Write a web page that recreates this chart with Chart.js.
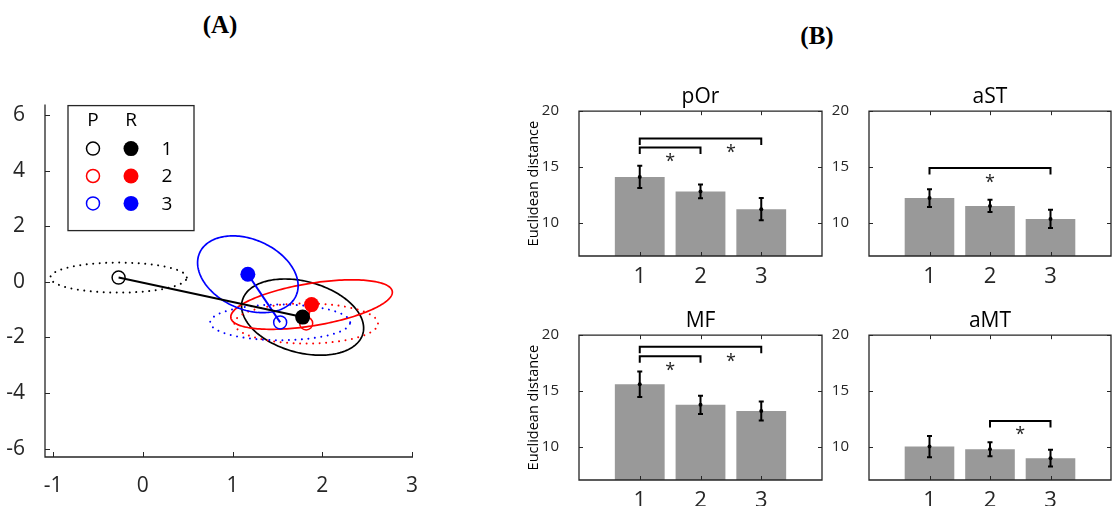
<!DOCTYPE html>
<html lang="en">
<head>
<meta charset="UTF-8">
<title>Panel A / Panel B</title>
<script src="https://cdn.jsdelivr.net/npm/chart.js"></script>
<style>
    body { margin: 0; background: #fff; }
    #wrap { position: relative; width: 1112px; height: 506px; overflow: hidden; background: #fff; }
    #wrap canvas { position: absolute; }
    .panel {
        position: absolute; width: 80px; text-align: center;
        font: bold 25px "Liberation Serif", serif; line-height: 24px; color: #000;
    }
</style>
</head>
<body>
<div id="wrap">
    <div class="panel" style="left:180px; top:13px;">(A)</div>
    <div class="panel" style="left:777px; top:24px;">(B)</div>
    <canvas id="chartA" width="430" height="426" style="left:0; top:80px;"></canvas>
    <canvas id="chartPOr" width="330" height="230" style="left:500px; top:70px;"></canvas>
    <canvas id="chartAST" width="282" height="230" style="left:830px; top:70px;"></canvas>
    <canvas id="chartMF" width="330" height="212" style="left:500px; top:294px;"></canvas>
    <canvas id="chartAMT" width="282" height="212" style="left:830px; top:294px;"></canvas>
</div>
<script>
// ---- panel A data ----
const groups = ['1', '2', '3'];
const groupColors = ['#000000', '#ff0000', '#0000ff'];
const pX = [-0.27, 1.82, 1.53];
const pY = [0.15, -1.5, -1.46];
const rX = [1.78, 1.88, 1.17];
const rY = [-1.27, -0.82, 0.27];
// spread ellipses (half width, half height, correlation) around P and R
const pEllW = [0.76, 0.80, 0.78];
const pEllH = [0.54, 0.72, 0.64];
const pEllRho = [0, 0, 0];
const rEllW = [0.68, 0.90, 0.56];
const rEllH = [1.37, 0.89, 1.38];
const rEllRho = [-0.29, 0.5, -0.3];
const xTicksA = [-1, 0, 1, 2, 3];
const yTicksA = [-6, -4, -2, 0, 2, 4, 6];

// ---- panel B data ----
const barCats = [1, 2, 3];
const barTicksX = ['1', '2', '3'];
const barTicksY = [10, 15, 20];
const pOrMean = [14.1, 12.8, 11.2];
const pOrErr = [1.0, 0.62, 1.0];
const aSTMean = [12.2, 11.5, 10.33];
const aSTErr = [0.8, 0.55, 0.82];
const mfMean = [15.6, 13.75, 13.2];
const mfErr = [1.15, 0.82, 0.85];
const aMTMean = [10.0, 9.76, 8.96];
const aMTErr = [0.95, 0.62, 0.75];
// significance: [from, to, bracket height, star x, star y]
const pOrSig = [[1, 3, 17.55, 2.5, 16.65], [1, 2, 16.74, 1.5, 15.8]];
const aSTSig = [[1, 3, 14.9, 2, 14.0]];
const mfSig = [[1, 3, 18.96, 2.5, 17.97], [1, 2, 18.1, 1.5, 17.2]];
const aMTSig = [[2, 3, 12.3, 2.5, 11.45]];
const legDrop = 0.58;

const axisColor = '#262626';
const sans = '"Open Sans", sans-serif';
Chart.defaults.font.family = sans;

// MATLAB style axes: ticks pointing inwards, optional full box
const frameTicks = {
    id: 'frameTicks',
    afterDatasetsDraw(chart, args, opts) {
        const {ctx, chartArea: a, scales: {x, y}} = chart;
        const len = opts.len || 5;
        ctx.save();
        ctx.strokeStyle = axisColor;
        ctx.lineWidth = 1;
        ctx.beginPath();
        x.ticks.forEach(t => {
            const px = Math.round(x.getPixelForValue(t.value)) + 0.5;
            ctx.moveTo(px, a.bottom); ctx.lineTo(px, a.bottom - len);
            if (opts.box) { ctx.moveTo(px, a.top); ctx.lineTo(px, a.top + len); }
        });
        y.ticks.forEach(t => {
            const py = Math.round(y.getPixelForValue(t.value)) + 0.5;
            ctx.moveTo(a.left, py); ctx.lineTo(a.left + len, py);
            if (opts.box) { ctx.moveTo(a.right, py); ctx.lineTo(a.right - len, py); }
        });
        ctx.stroke();
        ctx.lineWidth = 1.3;
        ctx.beginPath();
        if (opts.box) {
            ctx.rect(a.left, a.top, a.right - a.left, a.bottom - a.top);
        } else {
            ctx.moveTo(a.left, a.top); ctx.lineTo(a.left, a.bottom); ctx.lineTo(a.right, a.bottom);
        }
        ctx.stroke();
        ctx.restore();
    }
};

const ellipses = {
    id: 'ellipses',
    beforeDatasetsDraw(chart) {
        const {ctx, scales: {x, y}} = chart;
        const draw = (cx, cy, w, h, rho, color, dash) => {
            ctx.beginPath();
            for (let k = 0; k <= 180; k++) {
                const t = k / 180 * 2 * Math.PI;
                const vx = cx + w * Math.cos(t);
                const vy = cy + h * (rho * Math.cos(t) + Math.sqrt(1 - rho * rho) * Math.sin(t));
                const px = x.getPixelForValue(vx), py = y.getPixelForValue(vy);
                if (k) ctx.lineTo(px, py); else ctx.moveTo(px, py);
            }
            ctx.strokeStyle = color;
            ctx.setLineDash(dash);
            ctx.stroke();
        };
        ctx.save();
        ctx.lineCap = 'round';
        groupColors.forEach((c, i) => {
            ctx.lineWidth = 2;
            draw(pX[i], pY[i], pEllW[i], pEllH[i], pEllRho[i], c, [0.01, 6.5]);
            ctx.lineWidth = 1.7;
            draw(rX[i], rY[i], rEllW[i], rEllH[i], rEllRho[i], c, []);
        });
        ctx.restore();
    }
};

const matrixLegend = {
    id: 'matrixLegend',
    afterDraw(chart) {
        const {ctx, chartArea: a} = chart;
        const bx = a.left + 23, by = a.top + 1, bw = 126, bh = 125;
        ctx.save();
        ctx.fillStyle = '#fff';
        ctx.fillRect(bx, by, bw, bh);
        ctx.strokeStyle = axisColor;
        ctx.lineWidth = 1.3;
        ctx.strokeRect(bx, by, bw, bh);
        ctx.font = '19px ' + sans;
        ctx.textAlign = 'center';
        ctx.textBaseline = 'middle';
        ctx.fillStyle = '#000';
        ctx.fillText('P', bx + 25, by + 15);
        ctx.fillText('R', bx + 63, by + 15);
        groups.forEach((g, i) => {
            const ry = by + 43 + i * 27.4;
            ctx.strokeStyle = groupColors[i];
            ctx.lineWidth = 1.5;
            ctx.beginPath(); ctx.arc(bx + 25, ry, 6.5, 0, 2 * Math.PI); ctx.stroke();
            ctx.fillStyle = groupColors[i];
            ctx.beginPath(); ctx.arc(bx + 63, ry, 7.5, 0, 2 * Math.PI); ctx.fill();
            ctx.fillStyle = '#000';
            ctx.fillText(g, bx + 99, ry + 1);
        });
        ctx.restore();
    }
};

new Chart(document.getElementById('chartA'), {
    type: 'scatter',
    data: {
        datasets: groups.map((g, i) => ({
            label: g,
            data: [{x: pX[i], y: pY[i]}, {x: rX[i], y: rY[i]}],
            showLine: true,
            borderColor: groupColors[i],
            borderWidth: 2,
            pointRadius: [6.5, 7.5],
            pointBorderWidth: [1.5, 0],
            pointBorderColor: groupColors[i],
            pointBackgroundColor: ['rgba(0,0,0,0)', groupColors[i]]
        }))
    },
    options: {
        responsive: false,
        animation: false,
        events: [],
        layout: {padding: {top: 15, right: 17, left: 0, bottom: 0}},
        plugins: {legend: {display: false}, tooltip: {enabled: false}, frameTicks: {len: 5}},
        scales: {
            x: {
                type: 'linear', min: -1.09, max: 3.01,
                grid: {display: false}, border: {display: false},
                afterBuildTicks: s => { s.ticks = xTicksA.map(v => ({value: v})); },
                afterFit: s => { s.height = 49; },
                ticks: {font: {size: 21}, color: axisColor, padding: 8, maxRotation: 0, autoSkip: false}
            },
            y: {
                min: -6.3, max: 6.37,
                grid: {display: false}, border: {display: false},
                afterBuildTicks: s => { s.ticks = yTicksA.map(v => ({value: v})); },
                afterFit: s => { s.width = 45; },
                ticks: {font: {size: 21}, color: axisColor, padding: 12}
            }
        }
    },
    plugins: [ellipses, frameTicks, matrixLegend]
});

function barExtras(mean, err, sig) {
    return {
        id: 'barExtras',
        afterDatasetsDraw(chart) {
            const {ctx, scales: {x, y}} = chart;
            ctx.save();
            ctx.strokeStyle = '#000';
            ctx.fillStyle = '#000';
            ctx.lineWidth = 2;
            mean.forEach((m, i) => {
                const px = x.getPixelForValue(barCats[i]);
                const lo = y.getPixelForValue(m - err[i]);
                const hi = y.getPixelForValue(m + err[i]);
                ctx.beginPath();
                ctx.moveTo(px, lo); ctx.lineTo(px, hi);
                ctx.moveTo(px - 2.5, lo); ctx.lineTo(px + 2.5, lo);
                ctx.moveTo(px - 2.5, hi); ctx.lineTo(px + 2.5, hi);
                ctx.stroke();
                ctx.beginPath();
                ctx.arc(px, y.getPixelForValue(m), 2, 0, 2 * Math.PI);
                ctx.fill();
            });
            ctx.font = '18px ' + sans;
            ctx.textAlign = 'center';
            ctx.textBaseline = 'alphabetic';
            const mt = ctx.measureText('*');
            sig.forEach(([a, b, h, sx, sy]) => {
                const x1 = x.getPixelForValue(a), x2 = x.getPixelForValue(b);
                const yt = y.getPixelForValue(h), yl = y.getPixelForValue(h - legDrop);
                ctx.beginPath();
                ctx.moveTo(x1, yl); ctx.lineTo(x1, yt); ctx.lineTo(x2, yt); ctx.lineTo(x2, yl);
                ctx.stroke();
                const yc = y.getPixelForValue(sy);
                ctx.fillStyle = '#222';
                ctx.fillText('*', x.getPixelForValue(sx), yc + (mt.actualBoundingBoxAscent - mt.actualBoundingBoxDescent) / 2);
            });
            ctx.restore();
        }
    };
}

function barChart(id, title, mean, err, sig, yAxisWidth, padRight, xAxisHeight, showYTitle) {
    return new Chart(document.getElementById(id), {
        type: 'bar',
        data: {
            datasets: [{
                data: barCats.map((c, i) => ({x: c, y: mean[i]})),
                backgroundColor: '#999999',
                borderWidth: 0,
                categoryPercentage: 1,
                barPercentage: 0.82,
                clip: 0
            }]
        },
        options: {
            responsive: false,
            animation: false,
            events: [],
            layout: {padding: {top: 0, right: padRight, left: 0, bottom: 0}},
            plugins: {
                legend: {display: false},
                tooltip: {enabled: false},
                title: {
                    display: true, text: title, color: '#000', fullSize: false,
                    font: {size: 21, weight: 'normal'},
                    padding: {top: 14, bottom: 2}
                },
                frameTicks: {len: 4, box: true}
            },
            scales: {
                x: {
                    type: 'linear', min: 0, max: 4, offset: false,
                    grid: {display: false}, border: {display: false},
                    afterBuildTicks: s => { s.ticks = barCats.map(v => ({value: v})); },
                    afterFit: s => { s.height = xAxisHeight; },
                    ticks: {
                        callback: (v, i) => barTicksX[i],
                        font: {size: 22}, color: axisColor, padding: 0,
                        maxRotation: 0, autoSkip: false
                    }
                },
                y: {
                    min: 7, max: 20,
                    grid: {display: false}, border: {display: false},
                    afterBuildTicks: s => { s.ticks = barTicksY.map(v => ({value: v})); },
                    afterFit: s => { s.width = yAxisWidth; },
                    ticks: {font: {size: 15}, color: axisColor, padding: 12},
                    title: {
                        display: showYTitle, text: 'Euclidean distance', color: '#000',
                        font: {size: 14.5}, padding: {top: 25, bottom: 0}
                    }
                }
            }
        },
        plugins: [frameTicks, barExtras(mean, err, sig)]
    });
}

barChart('chartPOr', 'pOr', pOrMean, pOrErr, pOrSig, 79, 8, 44, true);
barChart('chartAST', 'aST', aSTMean, aSTErr, aSTSig, 39, 1, 44, false);
barChart('chartMF', 'MF', mfMean, mfErr, mfSig, 79, 8, 26, true);
barChart('chartAMT', 'aMT', aMTMean, aMTErr, aMTSig, 39, 1, 26, false);
</script>
</body>
</html>
